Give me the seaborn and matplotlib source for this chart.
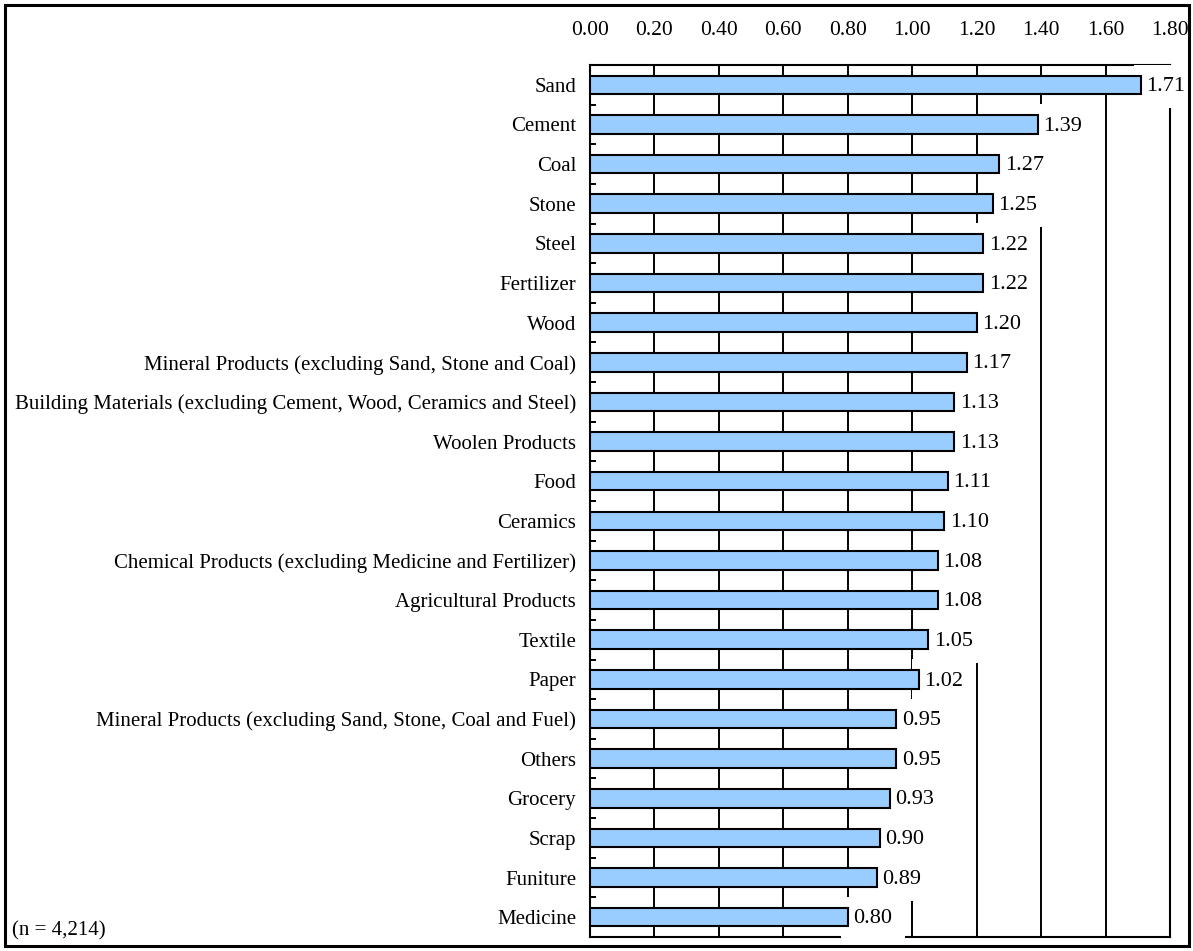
import matplotlib
matplotlib.use("Agg")
import matplotlib.pyplot as plt
import seaborn as sns
import pandas as pd
from matplotlib.patches import Rectangle
from matplotlib.ticker import FixedLocator

categories = [
    "Sand", "Cement", "Coal", "Stone", "Steel", "Fertilizer", "Wood",
    "Mineral Products (excluding Sand, Stone and Coal)",
    "Building Materials (excluding Cement, Wood, Ceramics and Steel)",
    "Woolen Products", "Food", "Ceramics",
    "Chemical Products (excluding Medicine and Fertilizer)",
    "Agricultural Products", "Textile", "Paper",
    "Mineral Products (excluding Sand, Stone, Coal and Fuel)",
    "Others", "Grocery", "Scrap", "Funiture", "Medicine",
]
values = [1.71, 1.39, 1.27, 1.25, 1.22, 1.22, 1.20, 1.17, 1.13, 1.13, 1.11,
          1.10, 1.08, 1.08, 1.05, 1.02, 0.95, 0.95, 0.93, 0.90, 0.89, 0.80]
x_ticks = [0.0, 0.2, 0.4, 0.6, 0.8, 1.0, 1.2, 1.4, 1.6, 1.8]
note = "(n = 4,214)"

sns.set_theme(style="white")
plt.rcParams["font.family"] = ["Liberation Serif", "DejaVu Serif"]
plt.rcParams["text.color"] = "black"

df = pd.DataFrame({"category": categories, "value": values})

fig = plt.figure(figsize=(11.93, 9.51), dpi=100)
ax = fig.add_axes([590 / 1193, 1 - 937 / 951, 580 / 1193, 872 / 951])

sns.barplot(data=df, x="value", y="category", orient="h", color="#99CCFF",
            edgecolor="black", linewidth=1.5, width=0.47, saturation=1,
            ax=ax, zorder=3)

ax.set_xlim(0, 1.8)
ax.set_ylim(len(categories) - 0.5, -0.5)
ax.set_xlabel("")
ax.set_ylabel("")

# x axis on top
ax.xaxis.tick_top()
ax.xaxis.set_major_locator(FixedLocator(x_ticks))
ax.set_xticklabels([f"{t:.2f}" for t in x_ticks])
ax.tick_params(axis="x", which="major", length=0, pad=18, labelsize=15.5,
               colors="black")
ax.set_axisbelow(True)
ax.grid(axis="x", color="black", linewidth=1.4)
ax.grid(axis="y", visible=False)

# y axis
ax.tick_params(axis="y", which="major", length=0, pad=10, labelsize=15,
               colors="black")
ax.yaxis.set_minor_locator(FixedLocator([i + 0.5 for i in range(len(categories) - 1)]))
ax.tick_params(axis="y", which="minor", direction="in", length=4.5, width=1.4,
               color="black", left=True)

for s in ax.spines.values():
    s.set_visible(True)
    s.set_color("black")
    s.set_linewidth(1.5)
    s.set_zorder(2)

# value labels with white boxes
for i, v in enumerate(values):
    ax.annotate(f"{v:.2f}", xy=(v, i), xytext=(4, -1.2), textcoords="offset points",
                ha="left", va="center", fontsize=16, color="black", zorder=2.5,
                bbox=dict(boxstyle="square,pad=0.56", facecolor="white",
                          edgecolor="none"))

fig.text(12 / 1193, 1 - 931 / 951, note, ha="left", va="center", fontsize=15,
         color="black")

fig.patches.append(Rectangle((5 / 1193, 5 / 951), 1184 / 1193, 941 / 951,
                             transform=fig.transFigure, fill=False,
                             edgecolor="black", linewidth=2.2))

fig.savefig("out.png", dpi=100)
